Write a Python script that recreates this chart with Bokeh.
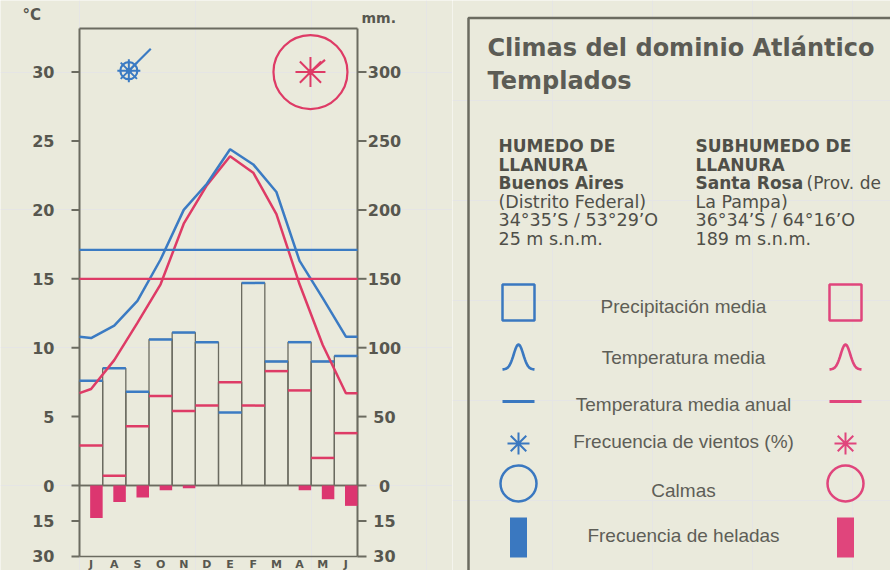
import numpy as np
from bokeh.plotting import figure
from bokeh.models import Range1d, ColumnDataSource
from bokeh.layouts import row
from bokeh.embed import file_html
from bokeh.resources import INLINE
from bokeh.core.properties import value

# ---------------- data ----------------
months = ["J", "A", "S", "O", "N", "D", "E", "F", "M", "A", "M", "J"]
temp_ba = [10.7, 11.6, 13.4, 16.4, 20.0, 21.9, 24.4, 23.3, 21.3, 16.3, 13.6, 10.8]
temp_sr = [7.0, 9.1, 11.8, 14.6, 19.0, 21.8, 23.9, 22.7, 19.7, 14.6, 10.2, 6.7]
prec_ba = [76, 85, 68, 106, 111, 104, 53, 147, 90, 104, 90, 94]
prec_sr = [29, 7, 43, 65, 54, 58, 75, 58, 83, 69, 20, 38]
frost_sr = [13.7, 7.0, 5.1, 2.0, 1.2, 0, 0, 0, 0, 2.0, 5.8, 8.6]
annual_ba = 17.1
annual_sr = 15.0
temp_ticks = [0, 5, 10, 15, 20, 25, 30]
prec_ticks = [0, 50, 100, 150, 200, 250, 300]
frost_ticks = [15, 30]

legend_labels = ["Precipitación media", "Temperatura media", "Temperatura media anual",
                 "Frecuencia de vientos (%)", "Calmas", "Frecuencia de heladas"]
station1 = ["HUMEDO DE", "LLANURA", "Buenos  Aires", "(Distrito Federal)",
            "34°35’S / 53°29’O", "25 m  s.n.m."]
station2 = ["SUBHUMEDO DE", "LLANURA", "Santa Rosa", "La Pampa)",
            "36°34’S / 64°16’O", "189 m  s.n.m."]
station2_extra = "(Prov. de"

# ---------------- style ----------------
BLUE = "#3b7bc3"
RED = "#de3b66"
LBLUE = "#3a78c0"
LPINK = "#e0457c"
GRAY = "#6b6b60"
TXT = "#57574f"
BG = "#eaeadc"
FONT = value("DejaVu Sans")

n = len(months)
idx = np.arange(n)

# chart frame geometry (in chart units)
C_TOP = 33.16                  # top edge of the chart box (°C)
FROST_C = 5.152 / 30.0         # chart °C units per frost day
X0, X1 = -3.410, 16.101        # visible month-units
Y0, Y1 = -6.168, 35.196        # visible °C units

W1, H = 452, 570
p = figure(width=W1, height=H, output_backend="svg", toolbar_location=None,
           title_location=None,
           x_range=Range1d(X0, X1), y_range=Range1d(Y0, Y1),
           x_axis_location=None, y_axis_location=None, min_border=0,
           background_fill_color=BG, border_fill_color=BG, outline_line_color=None)
p.extra_y_ranges = {"mm": Range1d(Y0 * 10, Y1 * 10),
                    "frost": Range1d(Y0 / FROST_C, Y1 / FROST_C)}

bottom_c = -max(frost_ticks) * FROST_C

# chart box: side scales, top line, base lines
p.segment(x0=[0, n], y0=[bottom_c, bottom_c], x1=[0, n], y1=[C_TOP, C_TOP],
          line_color=GRAY, line_width=2)
p.segment(x0=[0], y0=[C_TOP], x1=[n], y1=[C_TOP], line_color=GRAY, line_width=2)
p.segment(x0=[0, 0], y0=[0, bottom_c], x1=[n, n], y1=[0, bottom_c],
          line_color=GRAY, line_width=1.7)

# ticks
lt = temp_ticks + [-d * FROST_C for d in frost_ticks]
p.ray(x=[0] * len(lt), y=lt, length=8, length_units="screen", angle=180, angle_units="deg",
      line_color=GRAY, line_width=2)
p.ray(x=[n] * len(lt), y=lt, length=9, length_units="screen", angle=0, angle_units="deg",
      line_color=GRAY, line_width=2)

src = ColumnDataSource(dict(
    left=idx, right=idx + 1,
    ba=prec_ba, sr=prec_sr,
    top=np.maximum(prec_ba, prec_sr),
    frost=-np.array(frost_sr), fx=idx + 0.73))

p.quad(left="left", right="right", bottom=0, top="top", source=src, y_range_name="mm",
       fill_color=None, line_color=GRAY, line_width=1.3)
p.segment(x0="left", x1="right", y0="sr", y1="sr", source=src, y_range_name="mm",
          line_color=RED, line_width=2.5)
p.segment(x0="left", x1="right", y0="ba", y1="ba", source=src, y_range_name="mm",
          line_color=BLUE, line_width=2.5)
p.vbar(x="fx", width=0.54, top=0, bottom="frost", source=src, y_range_name="frost",
       fill_color="#dc3670", line_color=None)

tx = [0] + list(idx + 0.5) + [n]
p.line(tx, [temp_sr[-1]] + temp_sr + [temp_sr[-1]], line_color=RED, line_width=2.5)
p.line(tx, [temp_ba[-1]] + temp_ba + [temp_ba[-1]], line_color=BLUE, line_width=2.5)
p.segment(x0=[0], y0=[annual_ba], x1=[n], y1=[annual_ba], line_color=BLUE, line_width=2.2)
p.segment(x0=[0], y0=[annual_sr], x1=[n], y1=[annual_sr], line_color=RED, line_width=2.2)

# wind roses (frequency of winds and calms)
p.scatter([2.13], [30.1], marker="circle", size=17, fill_color=None, line_color=BLUE, line_width=2.2)
p.scatter([2.13], [30.1], marker="asterisk", size=23, line_color=BLUE, line_width=2)
p.scatter([2.13], [30.1], marker="circle", size=6, fill_color=BLUE, line_color=None)
p.ray([2.13], [30.1], length=31, length_units="screen", angle=45, angle_units="deg",
      line_color=BLUE, line_width=2.2)
p.scatter([9.97], [30.0], marker="circle", size=74, fill_color=None, line_color=RED, line_width=2.2)
p.scatter([9.97], [30.0], marker="asterisk", size=30, line_color=RED, line_width=2)
p.scatter([9.97], [30.0], marker="circle", size=6, fill_color=RED, line_color=None)
p.ray([9.97], [30.0], length=19, length_units="screen", angle=40, angle_units="deg",
      line_color=RED, line_width=2.2)

# tick labels
lab = dict(text_font=FONT, text_font_style="bold", text_font_size="16px",
           text_color=TXT, text_baseline="alphabetic")
p.text(x=[0] * len(temp_ticks), y=temp_ticks, text=[str(t) for t in temp_ticks],
       x_offset=-25, text_align="right", **lab)
p.text(x=[n] * len(prec_ticks), y=prec_ticks, text=[str(t) for t in prec_ticks],
       y_range_name="mm", x_offset=27, text_align="center", **lab)
fneg = [-d for d in frost_ticks]
p.text(x=[0] * len(frost_ticks), y=fneg, text=[str(d) for d in frost_ticks],
       y_range_name="frost", x_offset=-25, text_align="right", **lab)
p.text(x=[n] * len(frost_ticks), y=fneg, text=[str(d) for d in frost_ticks],
       y_range_name="frost", x_offset=27, text_align="center", **lab)
p.text(x=[0], y=[34.18], text=["°C"], x_offset=-57, text_align="left",
       text_font=FONT, text_font_style="bold", text_font_size="15px",
       text_color=TXT, text_baseline="alphabetic")
p.text(x=[n], y=[33.9], text=["mm."], x_offset=4, text_align="left",
       text_font=FONT, text_font_style="bold", text_font_size="14px",
       text_color=TXT, text_baseline="alphabetic")
p.text(x=idx + 0.5, y=[-max(frost_ticks)] * n, text=months, y_range_name="frost",
       y_offset=2, text_align="center", text_baseline="top", text_font=FONT,
       text_font_style="bold", text_font_size="11px", text_color=TXT)

# ---------------- right panel ----------------
W2 = 890 - W1
q = figure(width=W2, height=H, output_backend="svg", toolbar_location=None,
           title_location=None,
           x_range=Range1d(0, W2), y_range=Range1d(H, 0),
           x_axis_location=None, y_axis_location=None, min_border=0,
           background_fill_color=BG, border_fill_color=BG, outline_line_color=None)
q.line([16, 16, W2], [H, 17.5, 17.5], line_color=GRAY, line_width=2.5)

q.text([35, 35], [47, 80], text=["Climas del dominio Atlántico", "Templados"], text_font=FONT,
       text_font_style="bold", text_font_size="24px", text_color="#5c5c55",
       text_baseline="alphabetic")

base = [145.5, 164, 182.5, 201, 219.5, 238]
for col_x, lines in ((46, station1), (243, station2)):
    q.text([col_x] * 3, base[:3], text=lines[:3], text_font=FONT, text_font_style="bold",
           text_font_size="17px", text_color="#4f4f48", text_baseline="alphabetic")
    q.text([col_x] * 3, base[3:], text=lines[3:], text_font=FONT, text_font_style="normal",
           text_font_size="17.5px", text_color="#4f4f48", text_baseline="alphabetic")
q.text([243 + 111], [base[2]], text=[station2_extra], text_font=FONT, text_font_style="normal",
       text_font_size="17px", text_color="#4f4f48", text_baseline="alphabetic")

sym_y = [302, 357, 401, 443, 483, 537]
txt_y = [306, 357, 404, 441, 490, 535]
q.text([231] * len(legend_labels), txt_y, text=legend_labels, text_font=value("Liberation Sans"),
       text_font_size="19px", text_color="#5e5e57", text_align="center", text_baseline="middle")

bx = np.linspace(-1, 1, 41)
bell = np.exp(-(bx / 0.42) ** 2)
for cx, col in ((66, LBLUE), (393, LPINK)):
    q.rect([cx], [sym_y[0]], width=32, height=36, fill_color=None, line_color=col, line_width=2.5)
    q.line(cx + 16 * bx, sym_y[1] + 12 - 25 * bell, line_color=col, line_width=2.6)
    q.segment([cx - 16], [sym_y[2]], [cx + 16], [sym_y[2]], line_color=col, line_width=3)
    q.scatter([cx], [sym_y[3]], marker="asterisk", size=22, line_color=col, line_width=2)
    q.scatter([cx], [sym_y[4]], marker="circle", size=36, fill_color=None, line_color=col, line_width=2.5)
    q.rect([cx], [sym_y[5]], width=17, height=40, fill_color=col, line_color=None)

layout = row(p, q)
html = file_html(layout, INLINE)
html = html.replace("<body>", '<body style="background:#eaeadc">', 1)
open("out.html", "w").write(html)
